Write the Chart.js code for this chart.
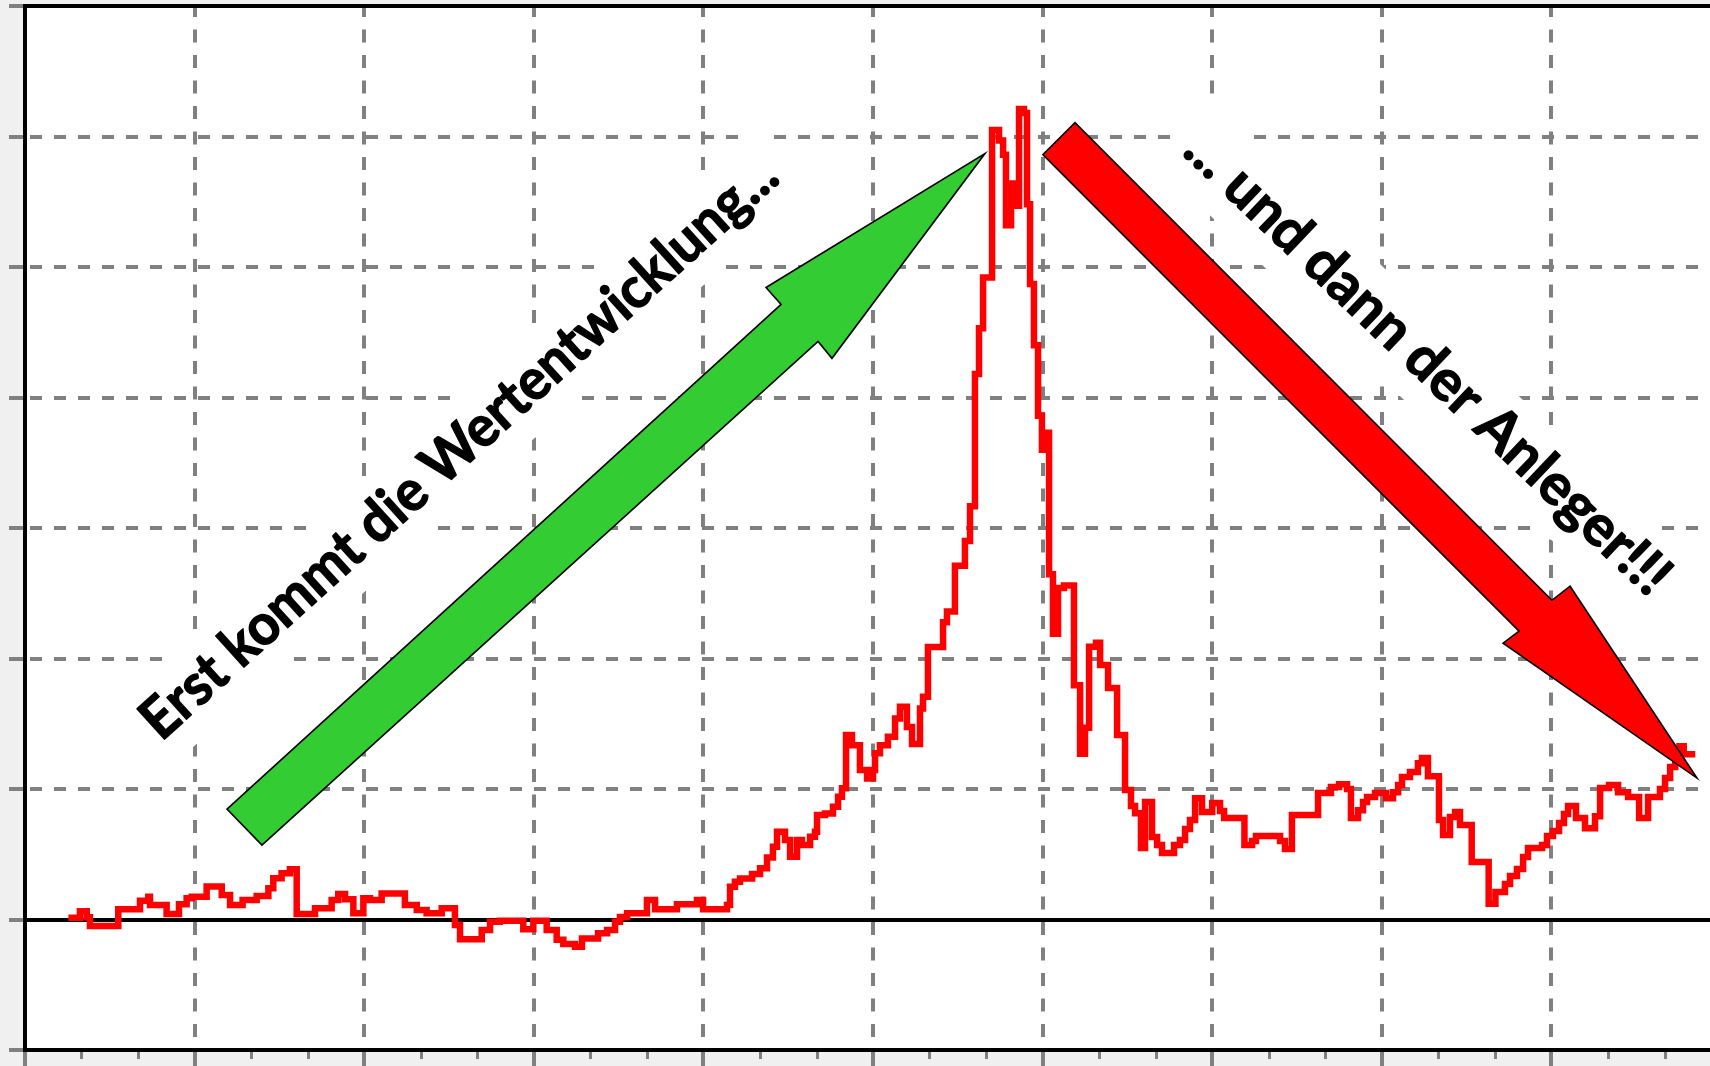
<!DOCTYPE html>
<html>
<head>
<meta charset="utf-8">
<title>Wertentwicklung</title>
<script src="https://cdn.jsdelivr.net/npm/chart.js@4.4.1/dist/chart.umd.min.js"></script>
<style>
  html, body { margin: 0; padding: 0; background: #f0f0f0; }
  #wrap { width: 1710px; height: 1066px; position: relative; }
</style>
</head>
<body>
<div id="wrap"><canvas id="chart"></canvas></div>
<script>
// units: one major gridline = 1 on both axes, 0 = black baseline
const xMajorTicks = [0, 1, 2, 3, 4, 5, 6, 7, 8, 9];
const xMinorTicks = [0.333, 0.667, 1.333, 1.667, 2.333, 2.667, 3.333, 3.667, 4.333, 4.667,
  5.333, 5.667, 6.333, 6.667, 7.333, 7.667, 8.333, 8.667, 9.333, 9.667];
const yTicks = [-1, 0, 1, 2, 3, 4, 5, 6, 7];

// red series, each point starts a step
const seriesX = [
  0.275, 0.324, 0.364, 0.383, 0.55, 0.678, 0.727, 0.737, 0.835, 0.908,
  0.953, 0.983, 1.071, 1.16, 1.209, 1.283, 1.366, 1.435, 1.464, 1.513,
  1.562, 1.602, 1.71, 1.808, 1.847, 1.887, 1.936, 1.995, 2.034, 2.103,
  2.24, 2.31, 2.368, 2.457, 2.535, 2.565, 2.693, 2.742, 2.8, 2.938,
  2.997, 3.076, 3.135, 3.174, 3.243, 3.284, 3.379, 3.432, 3.479, 3.508,
  3.55, 3.667, 3.715, 3.844, 3.962, 3.998, 4.139, 4.157, 4.186, 4.216,
  4.287, 4.334, 4.375, 4.41, 4.434, 4.481, 4.511, 4.552, 4.581, 4.629,
  4.658, 4.67, 4.717, 4.764, 4.794, 4.817, 4.841, 4.876, 4.923, 4.965,
  5.0, 5.012, 5.041, 5.088, 5.13, 5.159, 5.2, 5.23, 5.277, 5.295,
  5.324, 5.413, 5.436, 5.483, 5.542, 5.572, 5.601, 5.625, 5.649, 5.702,
  5.743, 5.767, 5.784, 5.814, 5.831, 5.861, 5.89, 5.908, 5.926, 5.949,
  5.973, 5.996, 6.008, 6.038, 6.061, 6.091, 6.126, 6.185, 6.221, 6.25,
  6.274, 6.315, 6.339, 6.386, 6.439, 6.486, 6.521, 6.545, 6.58, 6.604,
  6.645, 6.675, 6.704, 6.775, 6.81, 6.84, 6.869, 6.899, 6.94, 7.0,
  7.046, 7.07, 7.19, 7.235, 7.258, 7.4, 7.429, 7.47, 7.624, 7.7,
  7.748, 7.795, 7.818, 7.86, 7.889, 7.913, 7.96, 8.025, 8.066, 8.096,
  8.119, 8.166, 8.213, 8.237, 8.272, 8.337, 8.361, 8.402, 8.432, 8.461,
  8.53, 8.63, 8.67, 8.726, 8.756, 8.797, 8.833, 8.862, 8.945, 8.974,
  9.009, 9.045, 9.074, 9.098, 9.145, 9.198, 9.257, 9.287, 9.34, 9.393,
  9.452, 9.517, 9.57, 9.64, 9.67, 9.7, 9.73, 9.755, 9.78, 9.829
];
const seriesY = [
  0.014, 0.063, 0.017, -0.05, 0.078, 0.144, 0.175, 0.111, 0.042, 0.117,
  0.163, 0.175, 0.252, 0.188, 0.111, 0.15, 0.18, 0.24, 0.316, 0.354,
  0.385, 0.042, 0.086, 0.15, 0.196, 0.155, 0.047, 0.163, 0.15, 0.2,
  0.111, 0.073, 0.047, 0.086, -0.042, -0.152, -0.08, -0.017, -0.01, -0.075,
  -0.01, -0.08, -0.156, -0.188, -0.208, -0.145, -0.106, -0.08, -0.017, 0.02,
  0.047, 0.149, 0.078, 0.116, 0.149, 0.078, 0.111, 0.251, 0.289, 0.315,
  0.348, 0.392, 0.476, 0.557, 0.672, 0.609, 0.481, 0.609, 0.57, 0.634,
  0.672, 0.8, 0.813, 0.864, 0.94, 1.005, 1.413, 1.336, 1.145, 1.081,
  1.145, 1.273, 1.336, 1.4, 1.54, 1.63, 1.476, 1.344, 1.617, 1.706,
  2.089, 2.278, 2.36, 2.71, 2.9, 3.166, 4.18, 4.53, 4.92, 6.05,
  5.97, 5.86, 5.32, 5.64, 5.47, 6.21, 6.18, 5.48, 4.87, 4.4,
  3.86, 3.6, 3.73, 2.645, 2.19, 2.54, 2.56, 1.795, 1.27, 1.47,
  2.09, 2.12, 1.95, 1.773, 1.413, 0.992, 0.869, 0.815, 0.547, 0.9,
  0.632, 0.57, 0.509, 0.57, 0.609, 0.693, 0.762, 0.93, 0.823, 0.892,
  0.831, 0.777, 0.57, 0.601, 0.639, 0.601, 0.54, 0.8, 0.969, 1.015,
  1.037, 1.0, 0.777, 0.838, 0.9, 0.938, 0.969, 0.93, 0.976, 1.03,
  1.091, 1.13, 1.198, 1.237, 1.098, 0.762, 0.647, 0.785, 0.823, 0.724,
  0.44, 0.12, 0.211, 0.272, 0.333, 0.387, 0.479, 0.547, 0.57, 0.639,
  0.678, 0.739, 0.808, 0.869, 0.777, 0.7, 0.792, 1.007, 1.03, 0.976,
  0.938, 0.777, 0.938, 1.0, 1.084, 1.168, 1.267, 1.328, 1.267, 1.267
];

// arrow outlines in axis units
const greenArrowX = [1.191, 4.458, 4.369, 5.66, 4.758, 4.676, 1.397];
const greenArrowY = [0.846, 4.713, 4.843, 5.869, 4.3, 4.43, 0.57];
const redArrowX = [6.002, 6.191, 9.003, 9.11, 9.858, 8.715, 8.809];
const redArrowY = [5.861, 6.106, 2.446, 2.554, 1.084, 2.117, 2.209];

const captions = ['Erst kommt die Wertentwicklung...', '... und dann der Anleger!!!'];
const captionX = [2.633, 8.196];
const captionY = [3.511, 4.165];
const captionAngle = [-42.15, 43.56];
const captionLength = [837, 646];

const isSolid = v => v === 0 || v === 7;

const plotBackground = {
  id: 'plotBackground',
  beforeDraw(chart) {
    const { ctx, chartArea: a, width, height } = chart;
    ctx.save();
    ctx.fillStyle = '#f0f0f0';
    ctx.fillRect(0, 0, width, height);
    ctx.fillStyle = '#ffffff';
    ctx.fillRect(a.left, a.top, a.right - a.left, a.bottom - a.top);
    ctx.restore();
  }
};

function captionFrame(chart, i, cb) {
  const { ctx, scales } = chart;
  ctx.save();
  ctx.translate(scales.x.getPixelForValue(captionX[i]), scales.y.getPixelForValue(captionY[i]));
  ctx.rotate(captionAngle[i] * Math.PI / 180);
  cb(ctx);
  ctx.restore();
}

const captionBoxes = {
  id: 'captionBoxes',
  beforeDatasetsDraw(chart) {
    captions.forEach((t, i) => captionFrame(chart, i, ctx => {
      const len = captionLength[i] + 36;
      ctx.fillStyle = '#ffffff';
      ctx.fillRect(-len / 2, -57, len, 82);
    }));
  },
  afterDatasetsDraw(chart) {
    captions.forEach((t, i) => captionFrame(chart, i, ctx => {
      ctx.font = 'bold 57px Lato';
      const w = ctx.measureText(t).width;
      ctx.scale(captionLength[i] / w, 1);
      ctx.fillStyle = '#000000';
      ctx.strokeStyle = '#000000';
      ctx.lineWidth = 1.3;
      ctx.lineJoin = 'round';
      ctx.textAlign = 'center';
      ctx.textBaseline = 'alphabetic';
      ctx.fillText(t, 0, 0);
      ctx.strokeText(t, 0, 0);
    }));
  }
};

function drawArrow(chart, xs, ys, fill) {
  const { ctx, scales: { x, y } } = chart;
  ctx.save();
  ctx.beginPath();
  xs.forEach((v, i) => {
    const px = x.getPixelForValue(v), py = y.getPixelForValue(ys[i]);
    if (i) ctx.lineTo(px, py); else ctx.moveTo(px, py);
  });
  ctx.closePath();
  ctx.fillStyle = fill;
  ctx.fill();
  ctx.lineWidth = 1.6;
  ctx.strokeStyle = '#000000';
  ctx.stroke();
  ctx.restore();
}

const arrows = {
  id: 'arrows',
  afterDatasetsDraw(chart) {
    drawArrow(chart, greenArrowX, greenArrowY, '#33cc33');
    drawArrow(chart, redArrowX, redArrowY, '#ff0000');
  }
};

const minorTicks = {
  id: 'minorTicks',
  afterDraw(chart) {
    const { ctx, chartArea: a, scales: { x } } = chart;
    ctx.save();
    ctx.strokeStyle = '#808080';
    ctx.lineWidth = 3;
    xMinorTicks.forEach(v => {
      const px = Math.round(x.getPixelForValue(v)) + 0.5;
      ctx.beginPath();
      ctx.moveTo(px, a.bottom + 2);
      ctx.lineTo(px, a.bottom + 9);
      ctx.stroke();
    });
    ctx.restore();
  }
};

new Chart(document.getElementById('chart'), {
  type: 'line',
  data: {
    datasets: [{
      data: seriesX.map((x, i) => ({ x, y: seriesY[i] })),
      borderColor: '#ff0000',
      borderWidth: 6.5,
      borderJoinStyle: 'miter',
      borderCapStyle: 'square',
      stepped: true,
      pointRadius: 0,
      fill: false
    }]
  },
  options: {
    responsive: true,
    maintainAspectRatio: false,
    animation: false,
    events: [],
    layout: { padding: { left: 9, top: 6, right: 0, bottom: 0 } },
    plugins: { legend: { display: false }, tooltip: { enabled: false } },
    scales: {
      x: {
        type: 'linear', min: 0, max: 9.935,
        afterBuildTicks: s => { s.ticks = xMajorTicks.map(v => ({ value: v })); },
        ticks: { display: false },
        grid: { color: '#808080', lineWidth: 4, tickLength: 16, tickColor: '#808080', tickWidth: 4, tickBorderDash: [] },
        border: { display: true, color: '#000000', width: 4, dash: [13, 12.5], dashOffset: 2 }
      },
      y: {
        type: 'linear', min: -1, max: 7,
        afterBuildTicks: s => { s.ticks = yTicks.map(v => ({ value: v })); },
        ticks: { display: false },
        grid: {
          color: c => (c.tick && isSolid(c.tick.value)) ? '#000000' : '#808080',
          lineWidth: 4, tickLength: 16, tickColor: '#808080', tickWidth: 4, tickBorderDash: []
        },
        border: {
          display: true, color: '#000000', width: 4,
          dash: c => (c.tick && isSolid(c.tick.value)) ? [] : [12, 12],
          dashOffset: -3
        }
      }
    }
  },
  plugins: [plotBackground, captionBoxes, arrows, minorTicks]
});
</script>
</body>
</html>
